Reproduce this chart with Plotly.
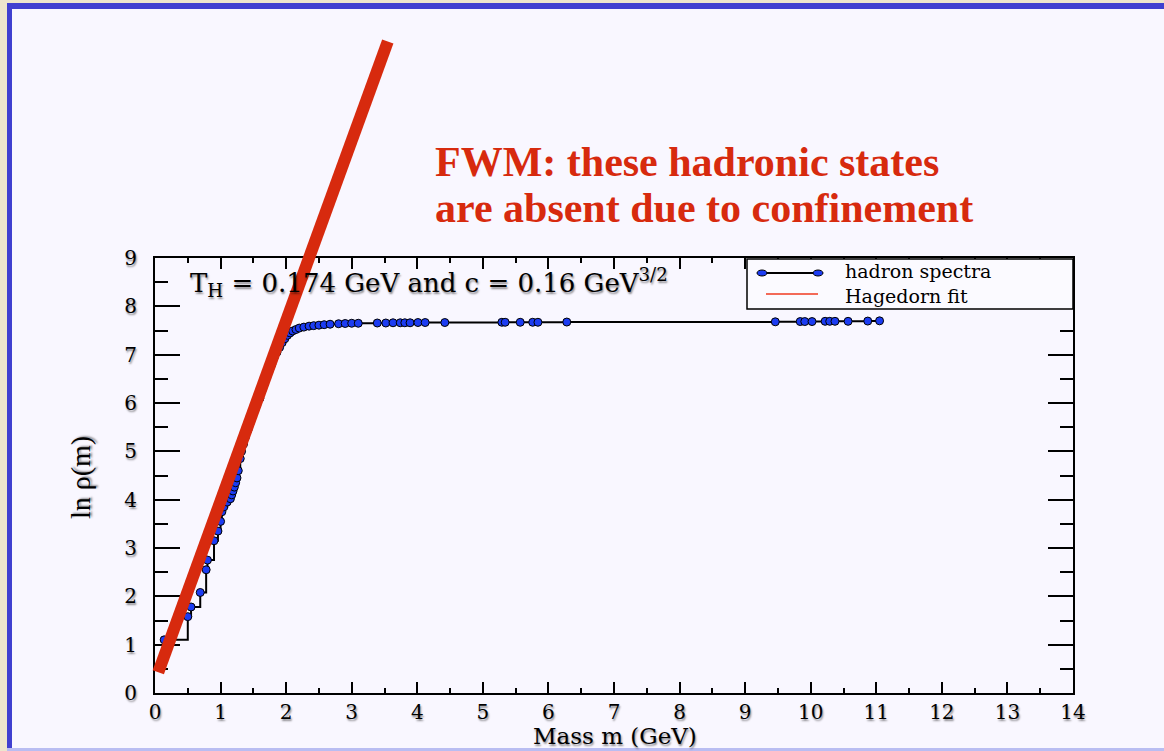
import plotly.graph_objects as go

# Cumulative hadron mass spectrum, ln rho(m), vs mass (GeV)
mass_gev = [0.14, 0.50, 0.55, 0.69, 0.78, 0.80, 0.90, 0.96, 1.00, 1.02, 1.05, 1.10,
            1.15, 1.17, 1.19, 1.21, 1.23, 1.25, 1.27, 1.30, 1.32, 1.35, 1.38, 1.42,
            1.45, 1.48, 1.52, 1.55, 1.60, 1.63, 1.67, 1.70, 1.72, 1.75, 1.78, 1.82,
            1.86, 1.90, 1.94, 1.98, 2.02, 2.06, 2.10, 2.15, 2.20, 2.27, 2.35, 2.42,
            2.50, 2.58, 2.67, 2.80, 2.90, 3.00, 3.10, 3.39, 3.52, 3.63, 3.74, 3.81,
            3.89, 4.01, 4.12, 4.42, 5.29, 5.34, 5.57, 5.76, 5.84, 6.28, 9.46, 9.84,
            9.91, 10.02, 10.22, 10.29, 10.37, 10.57, 10.87, 11.05]
ln_rho = [1.10, 1.58, 1.78, 2.08, 2.55, 2.75, 3.15, 3.35, 3.55, 3.75, 3.85, 3.95,
          4.02, 4.10, 4.18, 4.26, 4.35, 4.45, 4.60, 4.85, 5.00, 5.15, 5.30, 5.45,
          5.58, 5.70, 5.85, 5.95, 6.10, 6.25, 6.40, 6.55, 6.62, 6.70, 6.80, 6.95,
          7.05, 7.15, 7.25, 7.33, 7.40, 7.45, 7.49, 7.52, 7.55, 7.57, 7.59, 7.60,
          7.61, 7.62, 7.63, 7.64, 7.645, 7.65, 7.65, 7.655, 7.655, 7.66, 7.66, 7.66,
          7.66, 7.665, 7.665, 7.665, 7.67, 7.67, 7.67, 7.67, 7.67, 7.675, 7.68, 7.685,
          7.685, 7.685, 7.69, 7.69, 7.69, 7.69, 7.695, 7.70]

# Hagedorn fit (straight line in ln rho)
fit_mass = [0.05, 3.55]
fit_ln_rho = [0.43, 13.48]

x_ticks = list(range(0, 15))
y_ticks = list(range(0, 10))

legend_labels = ["hadron spectra", "Hagedorn fit"]

W, H = 1164, 751
X_RANGE = [0, 14]
Y_RANGE = [0, 9]
X_DOM = [155 / W, 1073 / W]
Y_DOM = [(H - 693) / H, (H - 258) / H]

# full-figure axes sharing the same scale, so the fit line is not clipped at the frame
px_x = (X_DOM[1] - X_DOM[0]) * W / (X_RANGE[1] - X_RANGE[0])
px_y = (Y_DOM[1] - Y_DOM[0]) * H / (Y_RANGE[1] - Y_RANGE[0])
X2_RANGE = [X_RANGE[0] - X_DOM[0] * W / px_x, X_RANGE[1] + (1 - X_DOM[1]) * W / px_x]
Y2_RANGE = [Y_RANGE[0] - Y_DOM[0] * H / px_y, Y_RANGE[1] + (1 - Y_DOM[1]) * H / px_y]

RED = "#d72a0e"
BLUE = "#1c3cf2"
FRAME_BLUE = "#4040d0"
SHADOW = "1px 2px 2px rgba(0,0,0,0.45)"
TICKFONT = dict(family="DejaVu Serif", size=20, color="black", shadow=SHADOW)

fig = go.Figure()

fig.add_trace(go.Scatter(
    x=mass_gev, y=ln_rho, mode="lines+markers", name=legend_labels[0],
    line=dict(color="black", width=2, shape="hv"),
    marker=dict(symbol="circle", size=8, color=BLUE,
                line=dict(color="black", width=1)),
    xaxis="x", yaxis="y", showlegend=False,
))

fig.add_trace(go.Scatter(
    x=fit_mass, y=fit_ln_rho, mode="lines", name=legend_labels[1], showlegend=False,
    line=dict(color=RED, width=12),
    xaxis="x2", yaxis="y2",
))


def px2paper(x, y):
    return x / W, 1 - y / H


def rect(x0, y0, x1, y1, fill, line=None, layer="below", kind="rect"):
    a, b = px2paper(x0, y0)
    c, d = px2paper(x1, y1)
    return dict(type=kind, xref="paper", yref="paper", x0=a, y0=d, x1=c, y1=b,
                fillcolor=fill, line=line or dict(width=0), layer=layer)


def seg(x0, y0, x1, y1, color, width):
    a, b = px2paper(x0, y0)
    c, d = px2paper(x1, y1)
    return dict(type="line", xref="paper", yref="paper", x0=a, y0=b, x1=c, y1=d,
                line=dict(color=color, width=width), layer="above")


shapes = [
    # slide frame: lavender panel with blue top and left borders
    rect(12, 9, 1164, 748, "#f9f7ff"),
    rect(7, 3, 1164, 9, FRAME_BLUE),
    rect(7, 3, 12, 748, FRAME_BLUE),
    rect(7, 748, 1164, 751, "#b9bdf2"),
    # legend box
    rect(747, 259, 1073, 309, "#fbfaff", line=dict(color="black", width=1.5), layer="above"),
    seg(762, 273, 818, 273, "black", 2),
    rect(757, 270, 767, 276, BLUE, line=dict(color="black", width=1), layer="above", kind="circle"),
    rect(813, 270, 823, 276, BLUE, line=dict(color="black", width=1), layer="above", kind="circle"),
    seg(766, 294, 818, 294, "#f03a20", 1.5),
]

annotations = [
    dict(text="FWM: these hadronic states", xref="paper", yref="paper",
         x=433 / W, y=1 - 162 / H, xanchor="left", yanchor="middle", showarrow=False,
         font=dict(family="Liberation Serif", size=42, color=RED, weight="bold")),
    dict(text="are absent due to confinement", xref="paper", yref="paper",
         x=433 / W, y=1 - 208 / H, xanchor="left", yanchor="middle", showarrow=False,
         font=dict(family="Liberation Serif", size=42, color=RED, weight="bold")),
    dict(text="T<sub>H</sub> = 0.174 GeV and c = 0.16 GeV<sup>3/2</sup>",
         xref="paper", yref="paper", x=188 / W, y=1 - 282 / H,
         xanchor="left", yanchor="middle", showarrow=False,
         font=dict(family="DejaVu Serif", size=26, color="black", shadow=SHADOW)),
    dict(text="Mass m (GeV)", xref="paper", yref="paper", x=615 / W, y=1 - 736 / H,
         xanchor="center", yanchor="middle", showarrow=False,
         font=dict(family="DejaVu Serif", size=23, color="black", shadow=SHADOW)),
    dict(text="ln ρ(m)", xref="paper", yref="paper", x=80 / W, y=1 - 478 / H,
         xanchor="center", yanchor="middle", showarrow=False, textangle=-90,
         font=dict(family="Liberation Serif", size=28, color="black", shadow=SHADOW)),
    dict(text=legend_labels[0], xref="paper", yref="paper", x=843 / W, y=1 - 271 / H,
         xanchor="left", yanchor="middle", showarrow=False,
         font=dict(family="DejaVu Serif", size=19, color="black")),
    dict(text=legend_labels[1], xref="paper", yref="paper", x=843 / W, y=1 - 296 / H,
         xanchor="left", yanchor="middle", showarrow=False,
         font=dict(family="DejaVu Serif", size=19, color="black")),
]

fig.update_layout(
    width=W, height=H,
    margin=dict(l=0, r=0, t=0, b=0, pad=0, autoexpand=False),
    paper_bgcolor="#ede6cd",
    plot_bgcolor="rgba(0,0,0,0)",
    shapes=shapes,
    annotations=annotations,
    showlegend=False,
    xaxis=dict(
        domain=X_DOM, range=X_RANGE, anchor="y", automargin=False,
        tickmode="array", tickvals=x_ticks, ticktext=[str(v) for v in x_ticks],
        ticks="inside", ticklen=11, tickwidth=2, tickcolor="black",
        minor=dict(dtick=0.5, ticks="inside", ticklen=5, tickwidth=2, tickcolor="black"),
        showline=True, linewidth=2, linecolor="black", mirror="allticks",
        showgrid=False, zeroline=False, tickfont=TICKFONT, ticklabelstandoff=0,
    ),
    yaxis=dict(
        domain=Y_DOM, range=Y_RANGE, anchor="x", automargin=False,
        tickmode="array", tickvals=y_ticks, ticktext=[str(v) for v in y_ticks],
        ticks="inside", ticklen=25, tickwidth=2, tickcolor="black",
        minor=dict(dtick=0.5, ticks="inside", ticklen=13, tickwidth=2, tickcolor="black"),
        showline=True, linewidth=2, linecolor="black", mirror="allticks",
        showgrid=False, zeroline=False, tickfont=TICKFONT, ticklabelstandoff=12,
    ),
    xaxis2=dict(domain=[0, 1], range=X2_RANGE, anchor="y2", visible=False,
                fixedrange=True, automargin=False),
    yaxis2=dict(domain=[0, 1], range=Y2_RANGE, anchor="x2", visible=False,
                fixedrange=True, automargin=False),
)

fig.write_html("out.html")
